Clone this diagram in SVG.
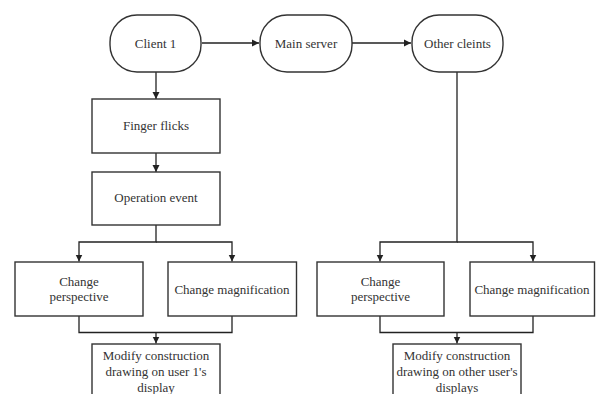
<svg xmlns="http://www.w3.org/2000/svg" width="596" height="394" viewBox="0 0 596 394">
<defs>
<marker id="ah" markerWidth="8" markerHeight="8" refX="7" refY="4" orient="auto" markerUnits="userSpaceOnUse">
<path d="M0,0.5 L7,4 L0,7.5 Z" fill="#222"/>
</marker>
<style>
.b{fill:#fff;stroke:#333;stroke-width:1.4}
.t{font-family:"Liberation Serif","Times New Roman",serif;font-size:13px;fill:#333;text-anchor:middle}
.c{fill:none;stroke:#222;stroke-width:1.3}
</style>
</defs>
<rect width="596" height="394" fill="#fff"/>
<g id="connectors">
<path class="c" d="M202,43 H259" marker-end="url(#ah)"/>
<path class="c" d="M352,43 H411" marker-end="url(#ah)"/>
<path class="c" d="M156,72 V99" marker-end="url(#ah)"/>
<path class="c" d="M156,153 V172" marker-end="url(#ah)"/>
<path class="c" d="M156,225 V242 H79 V261.5" marker-end="url(#ah)"/>
<path class="c" d="M156,242 H232 V261.5" marker-end="url(#ah)"/>
<path class="c" d="M79,316 V332.5 H232 V316"/>
<path class="c" d="M156,332.5 V343.5" marker-end="url(#ah)"/>
<path class="c" d="M457,72 V242 H380 V261.5" marker-end="url(#ah)"/>
<path class="c" d="M457,242 H533 V261.5" marker-end="url(#ah)"/>
<path class="c" d="M380,316 V332.5 H533 V316"/>
<path class="c" d="M457,332.5 V343.5" marker-end="url(#ah)"/>
</g>
<g id="client1">
<rect class="b" x="110" y="15" width="91" height="57" rx="27" ry="27"/>
<text class="t" x="155.5" y="47.5">Client 1</text>
</g>
<g id="mainserver">
<rect class="b" x="260" y="15" width="92" height="57" rx="27" ry="27"/>
<text class="t" x="306" y="47.5">Main server</text>
</g>
<g id="otherclients">
<rect class="b" x="412" y="15" width="91" height="57" rx="27" ry="27"/>
<text class="t" x="457.5" y="47.5">Other cleints</text>
</g>
<g id="fingerflicks">
<rect class="b" x="92" y="99" width="128" height="54"/>
<text class="t" x="156" y="130">Finger flicks</text>
</g>
<g id="operationevent">
<rect class="b" x="92" y="172" width="128" height="53"/>
<text class="t" x="156" y="202">Operation event</text>
</g>
<g id="changeperspective1">
<rect class="b" x="15" y="262" width="128" height="54"/>
<text class="t" x="79" y="285.5">Change</text>
<text class="t" x="79" y="301">perspective</text>
</g>
<g id="changemagnification1">
<rect class="b" x="168" y="262" width="128.5" height="54"/>
<text class="t" x="232" y="293.5">Change magnification</text>
</g>
<g id="modify1">
<rect class="b" x="92" y="344" width="128" height="60"/>
<text class="t" x="156" y="359.5">Modify construction</text>
<text class="t" x="156" y="376">drawing on user 1's</text>
<text class="t" x="156" y="392">display</text>
</g>
<g id="changeperspective2">
<rect class="b" x="317" y="262" width="127" height="54"/>
<text class="t" x="380.5" y="285.5">Change</text>
<text class="t" x="380.5" y="301">perspective</text>
</g>
<g id="changemagnification2">
<rect class="b" x="470" y="262" width="124.5" height="54"/>
<text class="t" x="532" y="293.5">Change magnification</text>
</g>
<g id="modify2">
<rect class="b" x="393" y="344" width="128" height="60"/>
<text class="t" x="457" y="359.5">Modify construction</text>
<text class="t" x="457" y="376">drawing on other user's</text>
<text class="t" x="457" y="392">displays</text>
</g>
</svg>
